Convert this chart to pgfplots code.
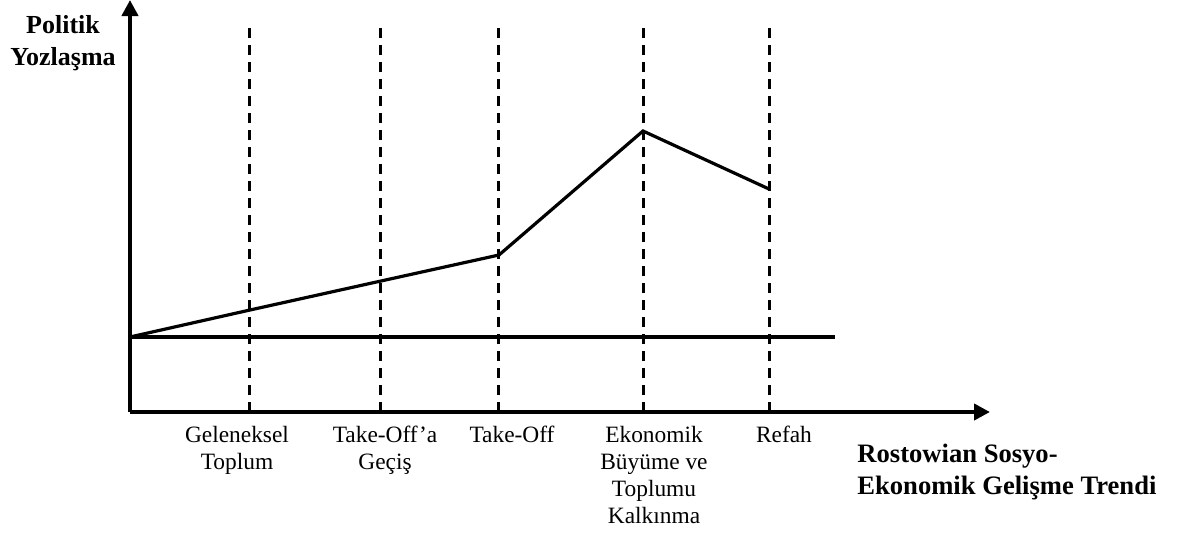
\documentclass[border=0pt]{standalone}
\usepackage{fontspec}
\setmainfont{Liberation Serif}
\usepackage{pgfplots}
\pgfplotsset{compat=1.18}
\usetikzlibrary{arrows.meta}
\begin{document}
\begin{tikzpicture}
\begin{axis}[
  scale only axis,
  width=430pt, height=206pt,
  xmin=130, xmax=990, ymin=125, ymax=537,
  axis lines=left,
  axis line style={line width=2pt, -{Triangle[length=8pt,width=8pt]}},
  clip=false,
  ytick=\empty,
  xtick={237,385,512,654,784},
  xticklabels={{Geleneksel\\Toplum},{Take-Off’a\\Geçiş},{Take-Off},{Ekonomik\\Büyüme ve\\Toplumu\\Kalkınma},{Refah}},
  major tick length=0pt,
  xticklabel style={align=center, anchor=north, inner sep=0pt, yshift=-7pt, font=\fontsize{11.7}{13.5}\selectfont},
]
\addplot[black, line width=1.5pt, dash pattern=on 5pt off 3.5pt] coordinates {(250,125) (250,509)};
\addplot[black, line width=1.5pt, dash pattern=on 5pt off 3.5pt] coordinates {(381,125) (381,509)};
\addplot[black, line width=1.5pt, dash pattern=on 5pt off 3.5pt] coordinates {(499,125) (499,509)};
\addplot[black, line width=1.5pt, dash pattern=on 5pt off 3.5pt] coordinates {(643,125) (643,509)};
\addplot[black, line width=1.5pt, dash pattern=on 5pt off 3.5pt] coordinates {(769,125) (769,509)};
\addplot[black, line width=1.6pt] coordinates {(130,200) (835,200)};
\addplot[black, line width=1.6pt, line join=miter] coordinates {(130,200) (250,227) (381,256) (499,282) (643,406) (769,348)};
\node[anchor=north, align=center, inner sep=0pt, font=\bfseries\fontsize{13}{16}\selectfont] at (axis cs:63,522) {Politik\\Yozlaşma};
\node[anchor=north west, align=left, inner sep=0pt, font=\bfseries\fontsize{13.3}{16}\selectfont] at (axis cs:857,93) {Rostowian Sosyo-\\Ekonomik Gelişme Trendi};
\coordinate (BL) at (axis cs:0,0);
\coordinate (TR) at (axis cs:1190,537);
\end{axis}
\pgfresetboundingbox
\path[use as bounding box] (BL) rectangle (TR);
\end{tikzpicture}
\end{document}
